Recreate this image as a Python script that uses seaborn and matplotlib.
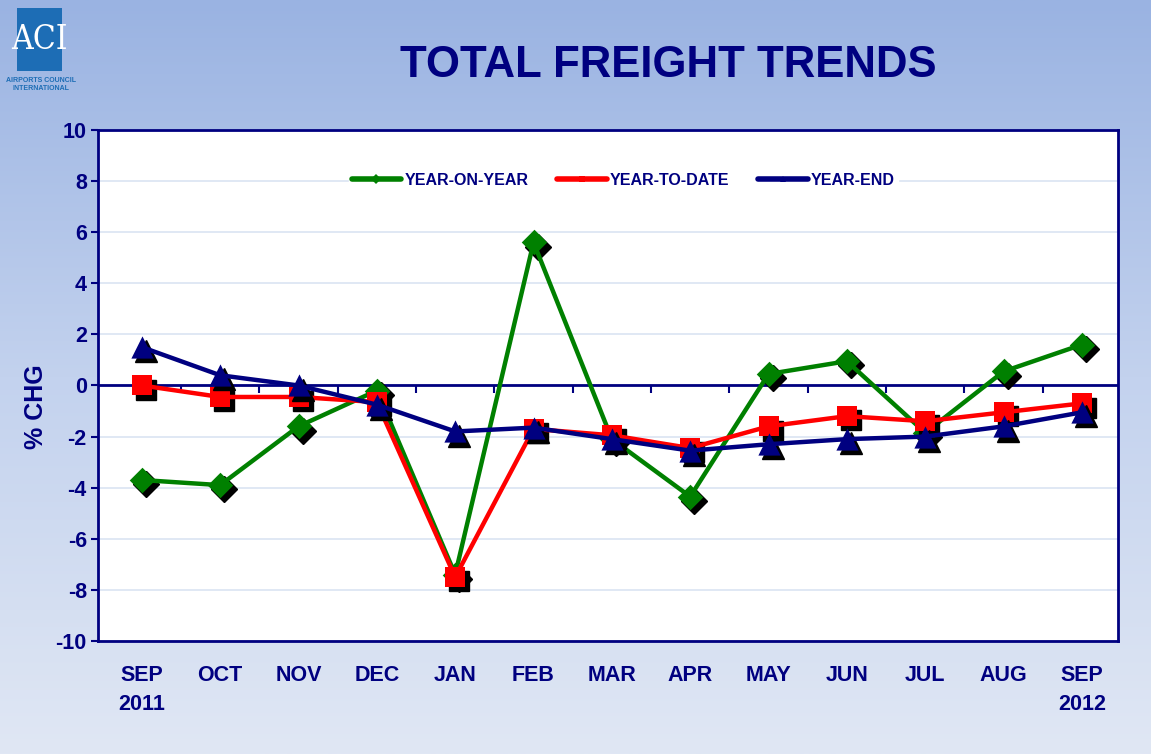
import numpy as np
import pandas as pd
import matplotlib
matplotlib.use("Agg")
import matplotlib.pyplot as plt
import matplotlib.transforms as mtransforms
from matplotlib.lines import Line2D
from matplotlib.patches import Rectangle
import seaborn as sns

months = ["SEP\n2011", "OCT", "NOV", "DEC", "JAN", "FEB", "MAR",
          "APR", "MAY", "JUN", "JUL", "AUG", "SEP\n2012"]
year_on_year = [-3.7, -3.9, -1.6, -0.2, -7.4, 5.6, -2.1, -4.35, 0.45, 0.95, -1.85, 0.55, 1.6]
year_to_date = [0.0, -0.45, -0.45, -0.65, -7.5, -1.7, -1.95, -2.45, -1.6, -1.2, -1.4, -1.05, -0.7]
year_end = [1.5, 0.4, 0.0, -0.75, -1.8, -1.65, -2.1, -2.55, -2.3, -2.1, -2.0, -1.6, -1.05]

NAVY = "#000080"

sns.set_theme(style="white")
plt.rcParams["font.family"] = ["Liberation Sans", "DejaVu Sans"]
plt.rcParams["axes.unicode_minus"] = False

df = pd.DataFrame({"x": np.arange(len(months)),
                   "YEAR-ON-YEAR": year_on_year,
                   "YEAR-TO-DATE": year_to_date,
                   "YEAR-END": year_end})

fig = plt.figure(figsize=(11.51, 7.54), dpi=100)

# slide background gradient
bg = fig.add_axes([0, 0, 1, 1], zorder=-10)
grad = np.linspace(0, 1, 256).reshape(-1, 1)
cmap = matplotlib.colors.LinearSegmentedColormap.from_list("bg", ["#9ab3e2", "#c3d2ee", "#e0e7f4"])
bg.imshow(grad, aspect="auto", cmap=cmap, extent=[0, 1, 0, 1])
bg.axis("off")

ax = fig.add_axes([0.0851, 0.1499, 0.8862, 0.6777])
ax.set_facecolor("white")

shadow = ax.transData + mtransforms.ScaledTranslation(3 / 72, -3 / 72, fig.dpi_scale_trans)

series = [("YEAR-ON-YEAR", "#008000", "D", 13),
          ("YEAR-TO-DATE", "#ff0000", "s", 14.5),
          ("YEAR-END", NAVY, "^", 16)]
z = 3
for name, col, mk, ms in series:
    ax.plot(df["x"], df[name], linestyle="none", marker=mk, markersize=ms,
            color="black", transform=shadow, zorder=z)
    n_before = len(ax.lines)
    sns.lineplot(data=df, x="x", y=name, ax=ax, color=col, linewidth=3.2,
                 legend=False)
    for ln in ax.lines[n_before:]:
        ln.set_zorder(z + 1)
    sns.scatterplot(data=df, x="x", y=name, ax=ax, color=col, marker=mk,
                    s=ms ** 2, linewidth=0, zorder=z + 1.5, legend=False)
    z += 2

ax.set_xlim(-0.56, len(months) - 0.54)
ax.set_ylim(-10, 10)
ax.set_yticks(np.arange(-10, 11, 2))
ax.grid(axis="y", color="#dde6f3", linewidth=1.3)
ax.axhline(0, color=NAVY, linewidth=2, zorder=2)

ax.set_xticks(df["x"])
ax.set_xticklabels(months, fontsize=15.5, fontweight="bold", color=NAVY,
                   linespacing=1.55, va="top")
ax.tick_params(axis="x", length=0, pad=17)
ax.tick_params(axis="y", length=5, width=1.5, color=NAVY, direction="out",
               labelsize=15.5, labelcolor=NAVY, pad=3, left=True)
for lab in ax.get_yticklabels():
    lab.set_fontweight("bold")
for sp in ax.spines.values():
    sp.set_color(NAVY)
    sp.set_linewidth(2)

# category divider ticks hanging from the zero line
mid = ax.secondary_xaxis(0.5)
mid.set_xticks(np.arange(0.5, len(months) - 1, 1.0))
mid.set_xticklabels([])
mid.tick_params(axis="x", length=6, width=1.5, color=NAVY, direction="in")
for sp in mid.spines.values():
    sp.set_visible(False)

ax.set_xlabel("")
ax.set_ylabel("% CHG", fontsize=18, fontweight="bold", color=NAVY)
ax.yaxis.set_label_coords(-0.049, 0.458)

handles = [Line2D([], [], color=col, linewidth=4, marker=mk, markersize=5,
                  markeredgewidth=0) for name, col, mk, ms in series]
labels = [s[0] for s in series]
leg = ax.legend(handles, labels, loc="center", bbox_to_anchor=(0.515, 0.902),
                ncol=3, frameon=True, fancybox=False, framealpha=1,
                edgecolor="white", facecolor="white", fontsize=11.5,
                handlelength=3.1, columnspacing=1.8, handletextpad=0.2,
                borderpad=0.2)
for t in leg.get_texts():
    t.set_color(NAVY)
    t.set_fontweight("bold")

fig.text(0.581, 0.913, "TOTAL FREIGHT TRENDS", ha="center", va="center",
         fontsize=31.5, fontweight="bold", color=NAVY)

# ACI logo
fig.patches.append(Rectangle((17 / 1151, 1 - 71 / 754), 45 / 1151, 63 / 754,
                             transform=fig.transFigure, facecolor="#1d6db5",
                             edgecolor="none"))
fig.text(39.5 / 1151, 1 - 40 / 754, "ACI", ha="center", va="center",
         fontsize=24, color="white", family="DejaVu Serif", fontstretch="condensed")
fig.text(41 / 1151, 1 - 80 / 754, "AIRPORTS COUNCIL", ha="center", va="center",
         fontsize=5, color="#1d6db5", fontweight="bold")
fig.text(41 / 1151, 1 - 89 / 754, "INTERNATIONAL", ha="center", va="center",
         fontsize=5, color="#1d6db5", fontweight="bold")

fig.savefig("out.png", dpi=100)
